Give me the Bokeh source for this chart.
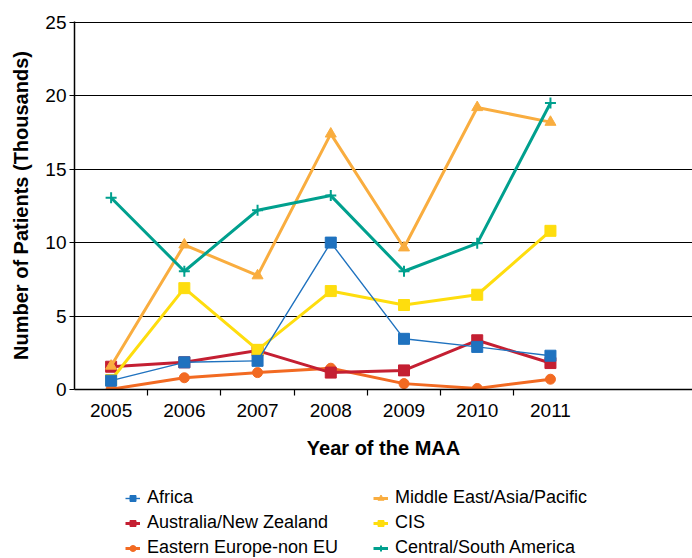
from bokeh.plotting import figure
from bokeh.layouts import column
from bokeh.models import FixedTicker, Legend, LegendItem
from bokeh.embed import file_html
from bokeh.resources import INLINE

years = [2005, 2006, 2007, 2008, 2009, 2010, 2011]
africa = [0.6, 1.85, 1.95, 10.0, 3.45, 2.9, 2.3]
australia_nz = [1.55, 1.85, 2.65, 1.15, 1.3, 3.35, 1.8]
eastern_europe = [0.02, 0.8, 1.15, 1.45, 0.4, 0.07, 0.7]
middle_east = [1.6, 9.85, 7.75, 17.4, 9.65, 19.2, 18.2]
cis = [0.65, 6.9, 2.7, 6.7, 5.75, 6.45, 10.8]
central_south_america = [13.05, 8.05, 12.2, 13.2, 8.05, 9.95, 19.5]

FONT = "Liberation Sans"

p = figure(width=692, height=475, x_range=(2004.5, 2012.94), y_range=(0, 25.05),
           output_backend="svg", toolbar_location=None,
           min_border_left=74, min_border_right=0, min_border_top=21, min_border_bottom=86)
p.outline_line_color = None
p.background_fill_color = "white"
p.border_fill_color = "white"

p.xgrid.grid_line_color = None
p.ygrid.grid_line_color = "black"
p.ygrid.grid_line_width = 1.2
p.yaxis.ticker = FixedTicker(ticks=[0, 5, 10, 15, 20, 25])
p.xaxis.ticker = FixedTicker(ticks=years, minor_ticks=[2005.5, 2006.5, 2007.5, 2008.5, 2009.5, 2010.5])

for ax in (p.xaxis[0], p.yaxis[0]):
    ax.axis_line_color = "black"
    ax.axis_line_width = 1.5
    ax.major_label_text_font = FONT
    ax.major_label_text_font_size = "19px"
    ax.major_label_text_color = "black"
    ax.axis_label_text_font = FONT
    ax.axis_label_text_font_size = "20px"
    ax.axis_label_text_font_style = "bold"
    ax.axis_label_text_color = "black"

p.xaxis.major_tick_line_color = None
p.xaxis.major_tick_out = 0
p.xaxis.major_tick_in = 0
p.xaxis.minor_tick_line_color = "black"
p.xaxis.minor_tick_line_width = 1.2
p.xaxis.minor_tick_out = 6
p.xaxis.minor_tick_in = 0
p.xaxis.major_label_standoff = 8
p.xaxis.axis_label = "Year of the MAA"
p.xaxis.axis_label_standoff = 17

p.yaxis.major_tick_line_color = "black"
p.yaxis.major_tick_out = 5
p.yaxis.major_tick_in = 0
p.yaxis.minor_tick_line_color = None
p.yaxis.major_label_standoff = 3
p.yaxis.axis_label = "Number of Patients (Thousands)"
p.yaxis.axis_label_standoff = 10

series = [
    ("Africa", africa, "#1f72bf", 1.4, "square", 11),
    ("Australia/New Zealand", australia_nz, "#c41f32", 3.0, "square", 11),
    ("Eastern Europe-non EU", eastern_europe, "#f26a22", 3.0, "circle", 10),
    ("Middle East/Asia/Pacific", middle_east, "#f9ad3f", 3.0, "triangle", 11),
    ("CIS", cis, "#fedd0e", 3.0, "square", 11),
    ("Central/South America", central_south_america, "#00a08e", 3.0, "cross", 11),
]
spec = {s[0]: s for s in series}


def draw(fig, name):
    _, vals, color, lw, marker, size = spec[name]
    r1 = fig.line(years, vals, line_color=color, line_width=lw)
    if marker == "cross":
        r2 = fig.scatter(years, vals, marker="cross", size=size, line_color=color, line_width=2)
    else:
        r2 = fig.scatter(years, vals, marker=marker, size=size, fill_color=color, line_color=color)
    return [r1, r2]


render_order = ["Eastern Europe-non EU", "Australia/New Zealand", "CIS", "Africa",
                "Middle East/Asia/Pacific", "Central/South America"]
for name in render_order:
    draw(p, name)

# legend panel (separate strip below the chart; its series lie outside its view)
lf = figure(width=692, height=83, x_range=(0, 1), y_range=(100, 101),
            x_axis_type=None, y_axis_type=None, output_backend="svg",
            toolbar_location=None, min_border=0)
lf.outline_line_color = None
lf.border_fill_color = "white"
lf.background_fill_color = "white"

legend_order = ["Africa", "Australia/New Zealand", "Eastern Europe-non EU",
                "Middle East/Asia/Pacific", "CIS", "Central/South America"]
items = [LegendItem(label=n, renderers=draw(lf, n)) for n in legend_order]
legend = Legend(items=items, nrows=3, location=(51, -2), orientation="vertical")
legend.border_line_color = None
legend.background_fill_alpha = 0
legend.label_text_font = FONT
legend.label_text_font_size = "18px"
legend.label_text_color = "black"
legend.glyph_width = 15
legend.glyph_height = 20
legend.label_height = 25
legend.label_width = 226
legend.spacing = 0
legend.padding = 2
legend.margin = 0
legend.label_standoff = 7
lf.add_layout(legend, "center")

layout = column(p, lf, spacing=0)
open("out.html", "w").write(file_html(layout, INLINE))
